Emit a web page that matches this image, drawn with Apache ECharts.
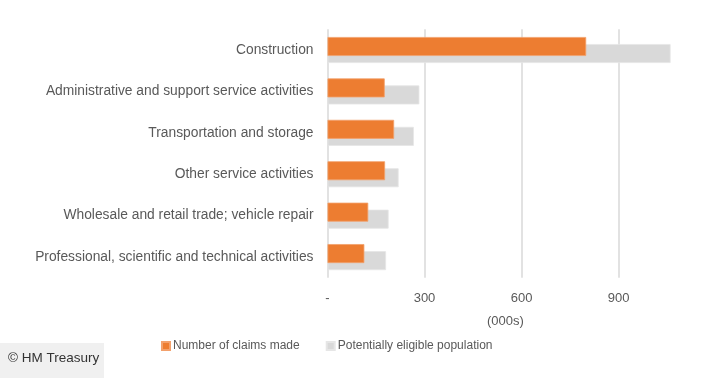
<!DOCTYPE html>
<html><head><meta charset="utf-8">
<script src="https://cdn.jsdelivr.net/npm/echarts@6/dist/echarts.min.js"></script>
<style>html,body{margin:0;padding:0;background:#fff}#c{width:718px;height:378px}</style>
</head><body><div id="c"></div>
<script>
const categories = ["Construction","Administrative and support service activities","Transportation and storage","Other service activities","Wholesale and retail trade; vehicle repair","Professional, scientific and technical activities"];
const claimsMade = [800, 177, 206, 178, 126, 114];
const eligiblePopulation = [1061, 284, 267, 220, 189, 181];
const xTicks = [0, 300, 600, 900];
const seriesNames = ["Number of claims made", "Potentially eligible population"];

const FONT = "Liberation Sans";
const chart = echarts.init(document.getElementById('c'), null, {renderer: 'canvas'});
chart.setOption({
  animation: false,
  textStyle: {fontFamily: FONT},
  grid: {left: 327.5, right: 34.8, top: 29.3, bottom: 100.2, containLabel: false},
  xAxis: {
    type: 'value', min: 0, max: 1100, interval: 300,
    splitLine: {show: false}, axisLine: {show: false}, axisTick: {show: false},
    axisLabel: {showMaxLabel: false, color: '#595959', fontSize: 13, fontFamily: FONT, margin: 14,
      formatter: v => v === 0 ? '-' : String(v)},
    name: '(000s)', nameLocation: 'middle', nameGap: 37,
    nameTextStyle: {color: '#595959', fontSize: 13, fontFamily: FONT}
  },
  yAxis: {
    type: 'category', data: categories, inverse: true,
    axisLine: {show: false}, axisTick: {show: false},
    axisLabel: {color: '#595959', fontSize: 13.8, fontFamily: FONT, margin: 14}
  },
  legend: {
    data: seriesNames, bottom: 21, left: 156, itemWidth: 8, itemHeight: 8, itemGap: 26,
    icon: 'rect', textStyle: {color: '#595959', fontSize: 12, fontFamily: FONT, padding: [0, 0, 0, -2]}
  },
  series: [
    {
      name: 'grid', type: 'line', data: [], z: 0, silent: true,
      markLine: {
        z: 0, silent: true, symbol: ['none', 'none'], label: {show: false}, animation: false,
        lineStyle: {color: '#d9d9d9', type: 'solid', width: 1.5},
        data: xTicks.map(t => ({xAxis: t}))
      }
    },
    {
      name: seriesNames[0], type: 'bar', data: claimsMade, barWidth: 19, barGap: '-63%', z: 3,
      itemStyle: {color: '#ed7d31', borderColor: '#f3a16c', borderWidth: 0.8}
    },
    {
      name: seriesNames[1], type: 'bar', data: eligiblePopulation, barWidth: 19, z: 2,
      itemStyle: {color: '#d9d9d9', borderColor: '#e6e6e6', borderWidth: 0.8}
    }
  ],
  graphic: [
    {type: 'rect', left: 0, top: 343, shape: {width: 104, height: 35}, style: {fill: '#f0f0f0'}},
    {type: 'text', left: 8, top: 351, style: {text: '© HM Treasury', fill: '#333333', font: '13.5px "Liberation Sans"'}}
  ]
});
</script></body></html>
